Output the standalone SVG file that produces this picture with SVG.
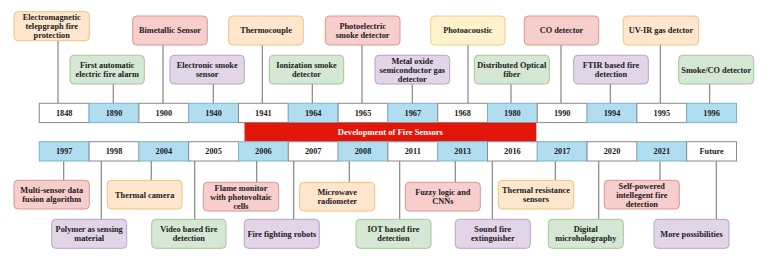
<svg xmlns="http://www.w3.org/2000/svg" width="767" height="260" viewBox="0 0 767 260">
<style>
text{font-family:"Liberation Serif","Times New Roman",serif;font-weight:bold;font-size:8.3px;fill:#1a1a1a;text-anchor:middle}
.cw{fill:#ffffff;stroke:#8a8a8a;stroke-width:1}
.cb{fill:#b1ddf0;stroke:#7fb3cc;stroke-width:1}
.o{fill:#ffe6cc;stroke:#f2c27e;stroke-width:1}
.g{fill:#d5e8d4;stroke:#a3c795;stroke-width:1}
.r{fill:#f8cecc;stroke:#dc9592;stroke-width:1}
.p{fill:#e1d5e7;stroke:#b9a2c8;stroke-width:1}
.y{fill:#fff2cc;stroke:#ebd084;stroke-width:1}
.ln{stroke:#858585;stroke-width:1.2;fill:none}
.wt{fill:#ffffff;font-size:8.6px}
</style>

<g id="connectors">
<path class="ln" d="M58 40.7V103M113.3 84V103M163 45V103M213.3 84V103M262.3 45V103M312.3 84V103M362 45V103M412.3 84V103M468 45V103M511 84V103M561 45V103M610.3 84V103M660.3 45V103M709.7 84V103"/>
<path class="ln" d="M63.7 161V180.3M101.3 161V219.3M151.3 161V180.3M194.7 161V219.3M256.7 161V182.3M293.7 161V219.3M349.3 161V182.3M399.7 161V219.3M455.3 161V182.3M492.3 161V219.3M555.3 161V180.3M598.7 161V219.3M660 161V180.3M716.3 161V219.3"/>
</g>

<g id="timeline-top">
<rect class="cw" x="39.3" y="103.3" width="49.8" height="19.3"/><text x="64.2" y="115.7">1848</text>
<rect class="cb" x="89.1" y="103.3" width="49.8" height="19.3"/><text x="114" y="115.7">1890</text>
<rect class="cw" x="138.9" y="103.3" width="49.8" height="19.3"/><text x="163.8" y="115.7">1900</text>
<rect class="cb" x="188.7" y="103.3" width="49.8" height="19.3"/><text x="213.6" y="115.7">1940</text>
<rect class="cw" x="238.5" y="103.3" width="49.8" height="19.3"/><text x="263.4" y="115.7">1941</text>
<rect class="cb" x="288.3" y="103.3" width="49.8" height="19.3"/><text x="313.2" y="115.7">1964</text>
<rect class="cw" x="338.1" y="103.3" width="49.8" height="19.3"/><text x="363" y="115.7">1965</text>
<rect class="cb" x="387.9" y="103.3" width="49.8" height="19.3"/><text x="412.8" y="115.7">1967</text>
<rect class="cw" x="437.7" y="103.3" width="49.8" height="19.3"/><text x="462.6" y="115.7">1968</text>
<rect class="cb" x="487.5" y="103.3" width="49.8" height="19.3"/><text x="512.4" y="115.7">1980</text>
<rect class="cw" x="537.3" y="103.3" width="49.8" height="19.3"/><text x="562.2" y="115.7">1990</text>
<rect class="cb" x="587.1" y="103.3" width="49.8" height="19.3"/><text x="612" y="115.7">1994</text>
<rect class="cw" x="636.9" y="103.3" width="49.8" height="19.3"/><text x="661.8" y="115.7">1995</text>
<rect class="cb" x="686.7" y="103.3" width="49.8" height="19.3"/><text x="711.6" y="115.7">1996</text>
</g>

<g id="title-bar">
<rect x="244.5" y="122.7" width="291.8" height="19" fill="#e3160b"/>
<text class="wt" x="390.4" y="135.1">Development of Fire Sensors</text>
</g>

<g id="timeline-bottom">
<rect class="cb" x="39.3" y="141.7" width="49.8" height="19.3"/><text x="64.2" y="154.1">1997</text>
<rect class="cw" x="89.1" y="141.7" width="49.8" height="19.3"/><text x="114" y="154.1">1998</text>
<rect class="cb" x="138.9" y="141.7" width="49.8" height="19.3"/><text x="163.8" y="154.1">2004</text>
<rect class="cw" x="188.7" y="141.7" width="49.8" height="19.3"/><text x="213.6" y="154.1">2005</text>
<rect class="cb" x="238.5" y="141.7" width="49.8" height="19.3"/><text x="263.4" y="154.1">2006</text>
<rect class="cw" x="288.3" y="141.7" width="49.8" height="19.3"/><text x="313.2" y="154.1">2007</text>
<rect class="cb" x="338.1" y="141.7" width="49.8" height="19.3"/><text x="363" y="154.1">2008</text>
<rect class="cw" x="387.9" y="141.7" width="49.8" height="19.3"/><text x="412.8" y="154.1">2011</text>
<rect class="cb" x="437.7" y="141.7" width="49.8" height="19.3"/><text x="462.6" y="154.1">2013</text>
<rect class="cw" x="487.5" y="141.7" width="49.8" height="19.3"/><text x="512.4" y="154.1">2016</text>
<rect class="cb" x="537.3" y="141.7" width="49.8" height="19.3"/><text x="562.2" y="154.1">2017</text>
<rect class="cw" x="587.1" y="141.7" width="49.8" height="19.3"/><text x="612" y="154.1">2020</text>
<rect class="cb" x="636.9" y="141.7" width="49.8" height="19.3"/><text x="661.8" y="154.1">2021</text>
<rect class="cw" x="686.7" y="141.7" width="49.8" height="19.3"/><text x="711.6" y="154.1">Future</text>
</g>

<g id="n-1848"><rect class="o" x="14" y="11.7" width="75.3" height="29" rx="4"/><text x="51.7" y="20.1">Electromagnetic</text><text x="51.7" y="29.1">telepgraph fire</text><text x="51.7" y="38.1">protection</text></g>
<g id="n-1890"><rect class="g" x="70" y="55.3" width="74.3" height="28.7" rx="4"/><text x="107.2" y="67.9">First automatic</text><text x="107.2" y="77.1">electric fire alarm</text></g>
<g id="n-1900"><rect class="r" x="132.7" y="16" width="74.6" height="29" rx="4"/><text x="170" y="33.4">Bimetallic Sensor</text></g>
<g id="n-1940"><rect class="p" x="170" y="55.3" width="74.3" height="28.7" rx="4"/><text x="207.2" y="67.9">Electronic smoke</text><text x="207.2" y="77.1">sensor</text></g>
<g id="n-1941"><rect class="o" x="228.7" y="16" width="74.6" height="29" rx="4"/><text x="266" y="33.4">Thermocouple</text></g>
<g id="n-1964"><rect class="g" x="269.3" y="55.3" width="74.4" height="28.7" rx="4"/><text x="306.5" y="67.9">Ionization smoke</text><text x="306.5" y="77.1">detector</text></g>
<g id="n-1965"><rect class="r" x="325.3" y="16" width="74.7" height="29" rx="4"/><text x="362.7" y="28.8">Photoelectric</text><text x="362.7" y="38">smoke detector</text></g>
<g id="n-1967"><rect class="p" x="375" y="55.3" width="74.7" height="28.7" rx="4"/><text x="412.3" y="63.5">Metal oxide</text><text x="412.3" y="72.5">semiconductor gas</text><text x="412.3" y="81.5">detector</text></g>
<g id="n-1968"><rect class="y" x="430.7" y="16" width="74.3" height="29" rx="4"/><text x="467.8" y="33.4">Photoacoustic</text></g>
<g id="n-1980"><rect class="g" x="474.3" y="55.3" width="75" height="28.7" rx="4"/><text x="511.8" y="67.9">Distributed Optical</text><text x="511.8" y="77.1">fiber</text></g>
<g id="n-1990"><rect class="r" x="524.3" y="16" width="74.4" height="29" rx="4"/><text x="561.5" y="33.4">CO detector</text></g>
<g id="n-1994"><rect class="p" x="573.7" y="55.3" width="74.6" height="28.7" rx="4"/><text x="611" y="67.9">FTIR based fire</text><text x="611" y="77.1">detection</text></g>
<g id="n-1995"><rect class="o" x="623.3" y="16" width="75.4" height="29" rx="4"/><text x="661" y="33.4">UV-IR gas detctor</text></g>
<g id="n-1996"><rect class="g" x="678.7" y="55.3" width="75" height="28.7" rx="4"/><text x="716.2" y="72.5">Smoke/CO detector</text></g>

<g id="n-1997"><rect class="r" x="14" y="180.3" width="75.3" height="28.7" rx="4"/><text x="51.7" y="193">Multi-sensor data</text><text x="51.7" y="202.2">fusion algorithm</text></g>
<g id="n-1998"><rect class="p" x="51.7" y="219.3" width="75" height="29" rx="4"/><text x="89.2" y="232.1">Polymer as sensing</text><text x="89.2" y="241.3">material</text></g>
<g id="n-2004"><rect class="o" x="107.3" y="180.3" width="74.7" height="28.7" rx="4"/><text x="144.7" y="197.6">Thermal camera</text></g>
<g id="n-2005"><rect class="g" x="151.7" y="219.3" width="74.3" height="29" rx="4"/><text x="188.8" y="232.1">Video based fire</text><text x="188.8" y="241.3">detection</text></g>
<g id="n-2006"><rect class="r" x="203.3" y="182.3" width="75.4" height="28.7" rx="4"/><text x="241" y="190.6">Flame monitor</text><text x="241" y="199.6">with photovoltaic</text><text x="241" y="208.6">cells</text></g>
<g id="n-2007"><rect class="p" x="244.3" y="219.3" width="75" height="29" rx="4"/><text x="281.8" y="236.7">Fire fighting robots</text></g>
<g id="n-2008"><rect class="o" x="299.7" y="182.3" width="75" height="28.7" rx="4"/><text x="337.2" y="195">Microwave</text><text x="337.2" y="204.2">radiometer</text></g>
<g id="n-2011"><rect class="g" x="356" y="219.3" width="75" height="29" rx="4"/><text x="393.5" y="232.1">IOT based fire</text><text x="393.5" y="241.3">detection</text></g>
<g id="n-2013"><rect class="r" x="405.3" y="182.3" width="75" height="28.7" rx="4"/><text x="442.8" y="195">Fuzzy logic and</text><text x="442.8" y="204.2">CNNs</text></g>
<g id="n-2016"><rect class="p" x="455.3" y="219.3" width="75" height="29" rx="4"/><text x="492.8" y="232.1">Sound fire</text><text x="492.8" y="241.3">extinguisher</text></g>
<g id="n-2017"><rect class="o" x="498.3" y="180.3" width="75.4" height="28.7" rx="4"/><text x="536" y="193">Thermal resistance</text><text x="536" y="202.2">sensors</text></g>
<g id="n-2020"><rect class="g" x="548.3" y="219.3" width="75" height="29" rx="4"/><text x="585.8" y="232.1">Digital</text><text x="585.8" y="241.3">microholography</text></g>
<g id="n-2021"><rect class="r" x="604.3" y="180.3" width="75" height="28.7" rx="4"/><text x="641.8" y="188.6">Self-powered</text><text x="641.8" y="197.6">intellegent fire</text><text x="641.8" y="206.6">detection</text></g>
<g id="n-future"><rect class="p" x="654" y="219.3" width="75" height="29" rx="4"/><text x="691.5" y="236.7">More possibilities</text></g>
</svg>
